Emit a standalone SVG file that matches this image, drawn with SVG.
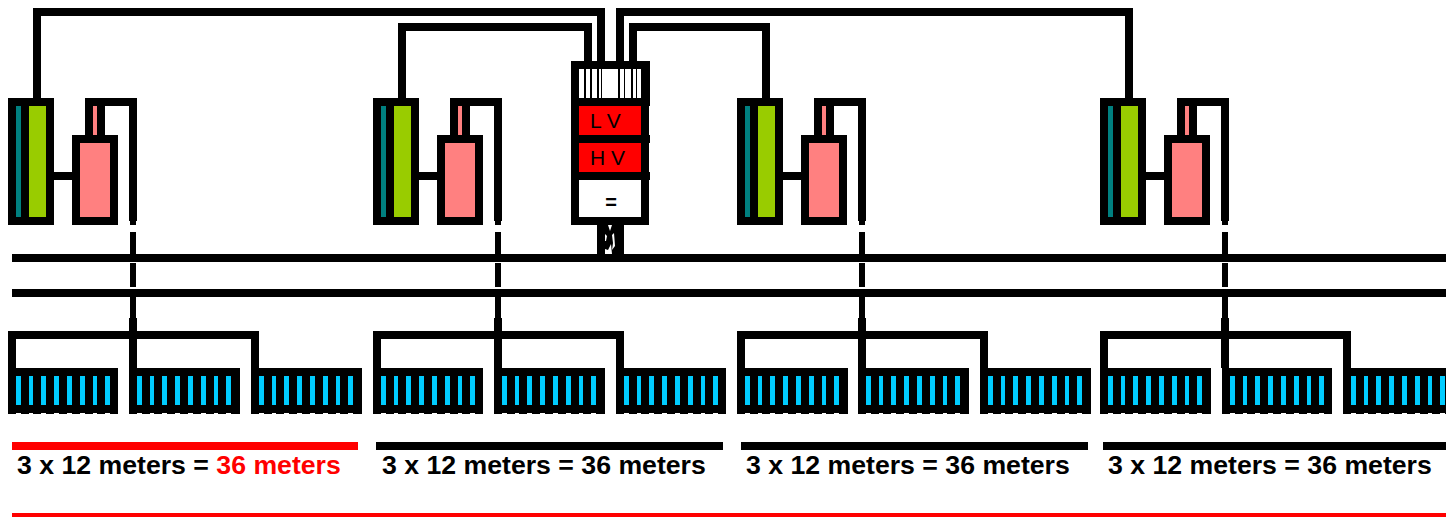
<svg xmlns="http://www.w3.org/2000/svg" width="1446" height="517" viewBox="0 0 1446 517">
<style>
.w{fill:none;stroke:#000;stroke-width:8;stroke-linejoin:miter;stroke-linecap:butt}
.d{fill:none;stroke:#000;stroke-width:6}
.k{fill:#000}
.c{fill:#00ccff}
.n{fill:#fff}
.t{fill:#000;font-family:"Liberation Sans",Arial,sans-serif;font-size:26.67px;font-weight:bold}
.s{fill:#000;font-family:"Liberation Sans",Arial,sans-serif;font-size:21px}
</style>
<defs>
<g id="gen">
<rect class="k" x="8" y="98" width="46" height="127"/>
<rect x="16" y="106" width="5" height="111" fill="#008080"/>
<rect x="29" y="106" width="17" height="111" fill="#99cc00"/>
<rect class="k" x="54" y="172" width="18" height="8"/>
<rect class="k" x="85" y="98" width="20" height="37"/>
<rect x="93" y="106" width="4" height="29" fill="#ff8080"/>
<rect class="k" x="72" y="135" width="46" height="90"/>
<rect x="80" y="143" width="30" height="74" fill="#ff8080"/>
</g>
<g id="cells">
<path class="c" d="M8 8h5v29h-5zM21 8h4v29h-4zM33 8h5v29h-5zM46 8h5v29h-5zM59 8h5v29h-5zM72 8h5v29h-5zM85 8h4v29h-4zM97 8h5v29h-5z"/>
<path class="n" d="M8 45h5v1h-5zM21 45h4v1h-4zM33 45h5v1h-5zM46 45h5v1h-5zM59 45h5v1h-5zM72 45h5v1h-5zM85 45h4v1h-4zM97 45h5v1h-5z"/>
</g>
<g id="feed">
<path class="w" d="M85 102H133V221"/>
<path class="d" d="M133 221V225M133 232V254M133 263V287M133 297V318"/>
<path class="w" d="M133 318V368M12 368V335H255V368"/>
</g>
</defs>

<g id="connectors">
<path class="w" d="M37 98V12H601V61"/>
<path class="w" d="M402 98V27H588V61"/>
<path class="w" d="M766 98V27H633V61"/>
<path class="w" d="M1129 98V12H620V61"/>
<use href="#feed"/>
<use href="#feed" transform="translate(365,0)"/>
<use href="#feed" transform="translate(729,0)"/>
<use href="#feed" transform="translate(1092,0)"/>
<rect class="k" x="12" y="254" width="1434" height="8"/>
<rect class="k" x="12" y="289" width="1434" height="8"/>
<rect class="k" x="597" y="225" width="27" height="29"/>
<path class="n" d="M608 225H612L610 231ZM605 234L607 236L606 241H605ZM612 235L614 233L615 246L612 250L613 243ZM605 254V249L608 250L611 244L612 254Z"/>
</g>

<g id="controller">
<rect class="k" x="571" y="61" width="79" height="45"/>
<rect class="n" x="579" y="69" width="62" height="29"/>
<path class="k" d="M584 69h2v29h-2zM590 69h2v29h-2zM597 69h2v29h-2zM601 69h1v29h-1zM618 69h2v29h-2zM624 69h1v29h-1zM631 69h2v29h-2zM636 69h1v29h-1z"/>
<rect class="k" x="571" y="98" width="79" height="8"/>
<rect class="k" x="571" y="106" width="78" height="119"/>
<rect class="k" x="649" y="135" width="1" height="8"/>
<rect class="k" x="649" y="172" width="1" height="8"/>
<rect x="579" y="106" width="62" height="29" fill="#ff0000"/>
<rect x="579" y="143" width="62" height="29" fill="#ff0000"/>
<rect class="n" x="579" y="180" width="62" height="37"/>
<text class="s" x="590" y="128">L V</text>
<text class="s" x="590" y="165">H V</text>
<text class="s" x="611" y="209" text-anchor="middle" style="font-weight:bold;font-size:20px">=</text>
</g>

<g id="generator1"><use href="#gen"/></g>
<g id="generator2" transform="translate(365,0)"><use href="#gen"/></g>
<g id="generator3" transform="translate(729,0)"><use href="#gen"/></g>
<g id="generator4" transform="translate(1092,0)"><use href="#gen"/></g>

<g id="panel1a" transform="translate(8,368)"><rect class="k" width="110" height="46"/><use href="#cells"/></g>
<g id="panel1b" transform="translate(129,368)"><rect class="k" width="111" height="46"/><use href="#cells"/></g>
<g id="panel1c" transform="translate(251,368)"><rect class="k" width="111" height="46"/><use href="#cells"/></g>
<g id="panel2a" transform="translate(373,368)"><rect class="k" width="110" height="46"/><use href="#cells"/></g>
<g id="panel2b" transform="translate(494,368)"><rect class="k" width="111" height="46"/><use href="#cells"/></g>
<g id="panel2c" transform="translate(616,368)"><rect class="k" width="110" height="46"/><use href="#cells"/></g>
<g id="panel3a" transform="translate(737,368)"><rect class="k" width="111" height="46"/><use href="#cells"/></g>
<g id="panel3b" transform="translate(858,368)"><rect class="k" width="111" height="46"/><use href="#cells"/></g>
<g id="panel3c" transform="translate(980,368)"><rect class="k" width="111" height="46"/><use href="#cells"/></g>
<g id="panel4a" transform="translate(1100,368)"><rect class="k" width="111" height="46"/><use href="#cells"/></g>
<g id="panel4b" transform="translate(1222,368)"><rect class="k" width="110" height="46"/><use href="#cells"/></g>
<g id="panel4c" transform="translate(1343,368)"><rect class="k" width="111" height="46"/><use href="#cells"/></g>

<g id="legend">
<rect x="12" y="442" width="346" height="8" fill="#ff0000"/>
<rect class="k" x="376" y="442" width="347" height="8"/>
<rect class="k" x="741" y="442" width="347" height="8"/>
<rect class="k" x="1103" y="442" width="343" height="8"/>
<text class="t" x="17" y="474">3 x 12 meters = <tspan fill="#ff0000">36 meters</tspan></text>
<text class="t" x="382" y="474">3 x 12 meters = 36 meters</text>
<text class="t" x="746" y="474">3 x 12 meters = 36 meters</text>
<text class="t" x="1108" y="474">3 x 12 meters = 36 meters</text>
<rect x="12" y="513" width="1434" height="4" fill="#ff0000"/>
</g>
</svg>
